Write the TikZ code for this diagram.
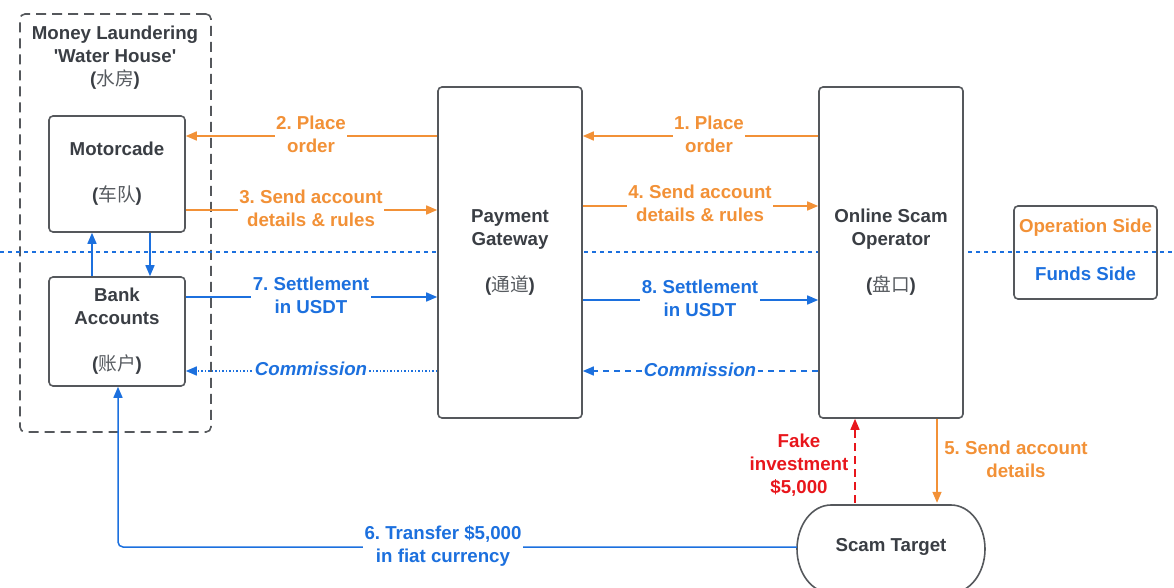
\documentclass[tikz,border=0pt]{standalone}
\usepackage{fontspec}
\setmainfont{Liberation Sans}
\newfontfamily\cjk{Noto Sans CJK SC}
\usetikzlibrary{arrows.meta,calc}
\definecolor{org}{RGB}{242,145,55}
\definecolor{blu}{RGB}{28,112,222}
\definecolor{rd}{RGB}{232,22,28}
\definecolor{txt}{RGB}{58,62,68}
\definecolor{edge}{RGB}{85,88,92}
\newcommand{\zh}[1]{({\cjk\mdseries\color{txt!85}#1})}
\frenchspacing
\begin{document}
\begin{tikzpicture}[x=1pt,y=-1pt,
  font=\fontsize{18.7}{23}\selectfont\bfseries\frenchspacing,
  box/.style={draw=edge, line width=1.6pt, rounded corners=4pt, fill=white, text=txt, align=center, inner sep=0pt},
  arr/.style={line width=1.5pt, -{Triangle[length=11pt,width=9pt]}},
  lab/.style={fill=white, align=center, inner sep=1.5pt},
]
\useasboundingbox (0,0) rectangle (1174,588);

% container
\node[draw=edge, line width=1.6pt, rounded corners=5pt, dash pattern=on 10pt off 6pt,
      minimum width=191pt, minimum height=418pt, inner sep=0pt] (WH) at (115.5,223) {};
\node[text=txt, align=center] (WHT) at (115,58) {Money Laundering\\\textquotesingle Water House\textquotesingle\\\zh{水房}};

% separator
\coordinate (SL) at (0,252);
\coordinate (SR) at (1174,252);
\draw[blu, line width=1.3pt, dash pattern=on 4pt off 4pt] (SL) -- (SR);

% boxes
\node[box, minimum width=136pt, minimum height=116pt] (MC) at (117,174) {Motorcade\\[23pt]\zh{车队}};
\node[box, minimum width=136pt, minimum height=109pt] (BA) at (117,331.5) {Bank\\Accounts\\[23pt]\zh{账户}};
\node[box, minimum width=144pt, minimum height=331pt] (PG) at (510,252.5) {Payment\\Gateway\\[23pt]\zh{通道}};
\node[box, minimum width=144pt, minimum height=331pt] (OSO) at (891,252.5) {Online Scam\\Operator\\[23pt]\zh{盘口}};
\node[draw=edge, line width=1.6pt, rounded corners=4pt, minimum width=143pt, minimum height=93pt, inner sep=0pt, align=center] (LG) at (1085.5,252.5) {};
\node[text=org] (LO) at (1085.5,228) {Operation Side};
\node[text=blu] (LF) at (1085.5,274) {Funds Side};

% scam target
\node[minimum width=188pt, minimum height=88pt, inner sep=0pt, text=txt] (ST) at (891,547) {Scam Target};
\draw[edge, line width=1.6pt] (831,505) -- (951,505)
  .. controls (969.8,505) and (985,524.8) .. (985,549)
  .. controls (985,573.2) and (969.8,593) .. (951,593) -- (831,593)
  .. controls (812.2,593) and (797,573.2) .. (797,549)
  .. controls (797,524.8) and (812.2,505) .. (831,505) -- cycle;

% rows
\coordinate (r1) at (0,136);
\coordinate (r3) at (0,210);
\coordinate (r4) at (0,206);
\coordinate (r7) at (0,297);
\coordinate (r8) at (0,300);
\coordinate (rc) at (0,371);

% orange arrows
\draw[arr, org] (PG.west |- r1) -- (MC.east |- r1);
\draw[arr, org] (MC.east |- r3) -- (PG.west |- r3);
\draw[arr, org] (OSO.west |- r1) -- (PG.east |- r1);
\draw[arr, org] (PG.east |- r4) -- (OSO.west |- r4);
\draw[arr, org] ([xshift=46pt]OSO.south) -- ([xshift=46pt]ST.north);

% blue arrows
\draw[arr, blu] ([xshift=-25pt]BA.north) -- ([xshift=-25pt]MC.south);
\draw[arr, blu] ([xshift=33pt]MC.south) -- ([xshift=33pt]BA.north);
\draw[arr, blu] (BA.east |- r7) -- (PG.west |- r7);
\draw[arr, blu] (PG.east |- r8) -- (OSO.west |- r8);
\draw[arr, blu, dash pattern=on 1.5pt off 2pt] (PG.west |- rc) -- (BA.east |- rc);
\draw[arr, blu, dash pattern=on 6pt off 5pt] (OSO.west |- rc) -- (PG.east |- rc);
\draw[arr, blu, rounded corners=5pt] (ST.west) -| ([xshift=1pt]BA.south);

% red
\draw[arr, rd, dash pattern=on 8pt off 5pt] ([xshift=-36pt]ST.north) -- ([xshift=-36pt]OSO.south);

% labels
\node[lab, text=org] (L2) at (311,134) {2. Place\\order};
\node[lab, text=org] (L3) at (311,208) {3. Send account\\details \& rules};
\node[lab, text=org] (L1) at (709,134) {1. Place\\order};
\node[lab, text=org] (L4) at (700,203) {4. Send account\\details \& rules};
\node[lab, text=blu] (L7) at (311,295) {7. Settlement\\in USDT};
\node[lab, text=blu] (L8) at (700,298) {8. Settlement\\in USDT};
\node[lab, text=blu, font=\fontsize{18.7}{23}\selectfont\bfseries\itshape] (C1) at (311,369) {Commission};
\node[lab, text=blu, font=\fontsize{18.7}{23}\selectfont\bfseries\itshape] (C2) at (700,370) {Commission};
\node[lab, text=blu] (L6) at (443,546) {6. Transfer \$5,000\\in fiat currency};
\node[text=org, align=center] (L5) at (1016,459) {5. Send account\\details};
\node[text=rd, align=center] (LR) at (799,465) {Fake\\investment\\\$5,000};
\end{tikzpicture}
\end{document}
